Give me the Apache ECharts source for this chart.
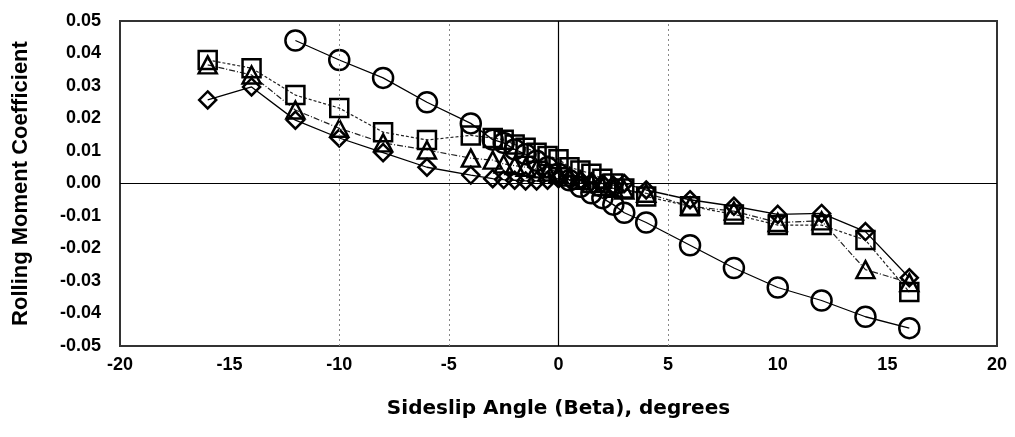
<!DOCTYPE html>
<html>
<head>
<meta charset="utf-8">
<script src="https://cdn.jsdelivr.net/npm/echarts@6/dist/echarts.min.js"></script>
<style>
  html, body { margin: 0; padding: 0; background: #fff; }
  #chart { width: 1015px; height: 437px; }
</style>
</head>
<body>
<div id="chart"></div>
<script>
// sideslip angles (deg)
const beta = [-16, -14, -12, -10, -8, -6, -4, -3, -2.5, -2, -1.5, -1, -0.5, 0, 0.5, 1, 1.5, 2, 2.5, 3, 4, 6, 8, 10, 12, 14, 16];
const betaCircle = [-12, -10, -8, -6, -4, -3, -2.5, -2, -1.5, -1, -0.5, 0, 0.5, 1, 1.5, 2, 2.5, 3, 4, 6, 8, 10, 12, 14, 16];

// rolling moment coefficient per configuration
const circleVals = [0.044, 0.038, 0.0325, 0.025, 0.0185, 0.0135, 0.0125, 0.0105, 0.009, 0.007, 0.005, 0.003, 0.001, -0.001, -0.003, -0.0045, -0.0065, -0.009, -0.012, -0.019, -0.026, -0.032, -0.036, -0.041, -0.0445];
const squareVals = [0.038, 0.0355, 0.0272, 0.0232, 0.0158, 0.0134, 0.0148, 0.014, 0.0135, 0.012, 0.011, 0.0095, 0.0085, 0.0075, 0.005, 0.004, 0.003, 0.0015, 0.0, -0.0015, -0.004, -0.007, -0.0095, -0.0128, -0.0128, -0.0174, -0.0334];
const triangleVals = [0.0365, 0.0334, 0.0226, 0.017, 0.0125, 0.0103, 0.0078, 0.0072, 0.006, 0.0055, 0.005, 0.0045, 0.0035, 0.003, 0.002, 0.001, 0.0, -0.001, -0.0015, -0.002, -0.003, -0.007, -0.0085, -0.012, -0.0115, -0.0265, -0.0305];
const diamondVals = [0.0257, 0.0297, 0.0195, 0.014, 0.0095, 0.005, 0.0026, 0.0015, 0.0012, 0.001, 0.0008, 0.0008, 0.001, 0.0015, 0.0012, 0.001, 0.0005, 0.0, -0.0005, 0.0, -0.002, -0.005, -0.007, -0.0095, -0.0092, -0.0148, -0.029];

// axis ticks
const xTicks = [-20, -15, -10, -5, 0, 5, 10, 15, 20];
const yTicks = [-0.05, -0.04, -0.03, -0.02, -0.01, 0, 0.01, 0.02, 0.03, 0.04, 0.05];
const dashedX = [-10, -5, 5];

function pairs(xs, ys) {
  return xs.map((x, i) => [x, ys[i]]);
}

const chart = echarts.init(document.getElementById('chart'));

const marker = {
  color: 'rgba(0,0,0,0)',
  borderColor: '#000',
  borderWidth: 2.5
};

const option = {
  animation: false,
  grid: {
    left: 120,
    right: 18,
    top: 21,
    bottom: 91,
    show: true,
    borderColor: '#333',
    borderWidth: 2
  },
  xAxis: {
    type: 'value',
    min: xTicks[0],
    max: xTicks[xTicks.length - 1],
    interval: 5,
    name: 'Sideslip Angle (Beta), degrees',
    nameLocation: 'middle',
    nameGap: 53,
    nameTextStyle: {
      fontFamily: 'DejaVu Sans',
      fontWeight: 'bold',
      fontSize: 20,
      color: '#000'
    },
    axisLine: { show: false },
    axisTick: { show: false },
    splitLine: { show: false },
    axisLabel: {
      margin: 10,
      fontFamily: 'Liberation Sans',
      fontWeight: 'bold',
      fontSize: 18,
      color: '#000'
    }
  },
  yAxis: {
    type: 'value',
    min: yTicks[0],
    max: yTicks[yTicks.length - 1],
    interval: 0.01,
    name: 'Rolling Moment Coefficient',
    nameLocation: 'middle',
    nameGap: 88,
    nameTextStyle: {
      fontFamily: 'Liberation Sans',
      fontWeight: 'bold',
      fontSize: 22,
      color: '#000'
    },
    axisLine: { show: false },
    axisTick: { show: false },
    splitLine: { show: false },
    axisLabel: {
      margin: 19,
      fontFamily: 'Liberation Sans',
      fontWeight: 'bold',
      fontSize: 18,
      color: '#000',
      formatter: (v) => v.toFixed(2)
    }
  },
  series: [
    {
      // reference lines
      type: 'line',
      data: [],
      markLine: {
        silent: true,
        symbol: 'none',
        label: { show: false },
        data: [
          { xAxis: 0, lineStyle: { color: '#000', width: 1.2, type: 'solid' } },
          { yAxis: 0, lineStyle: { color: '#000', width: 1.2, type: 'solid' } }
        ].concat(dashedX.map((v) => ({
          xAxis: v,
          lineStyle: { color: '#888', width: 1, type: [2, 3] }
        })))
      }
    },
    {
      type: 'line',
      data: pairs(betaCircle, circleVals),
      symbol: 'circle',
      symbolSize: 20,
      lineStyle: { color: '#000', width: 1.3, type: 'solid' },
      itemStyle: marker,
      z: 3
    },
    {
      type: 'line',
      data: pairs(beta, squareVals),
      symbol: 'rect',
      symbolSize: 18,
      lineStyle: { color: '#222', width: 1.2, type: [3, 2] },
      itemStyle: marker,
      z: 3
    },
    {
      type: 'line',
      data: pairs(beta, triangleVals),
      symbol: 'triangle',
      symbolSize: [18, 17],
      lineStyle: { color: '#222', width: 1.2, type: [6, 2, 1, 2] },
      itemStyle: marker,
      z: 3
    },
    {
      type: 'line',
      data: pairs(beta, diamondVals),
      symbol: 'diamond',
      symbolSize: 17,
      lineStyle: { color: '#000', width: 1.3, type: 'solid' },
      itemStyle: marker,
      z: 3
    }
  ]
};

chart.setOption(option);
</script>
</body>
</html>
